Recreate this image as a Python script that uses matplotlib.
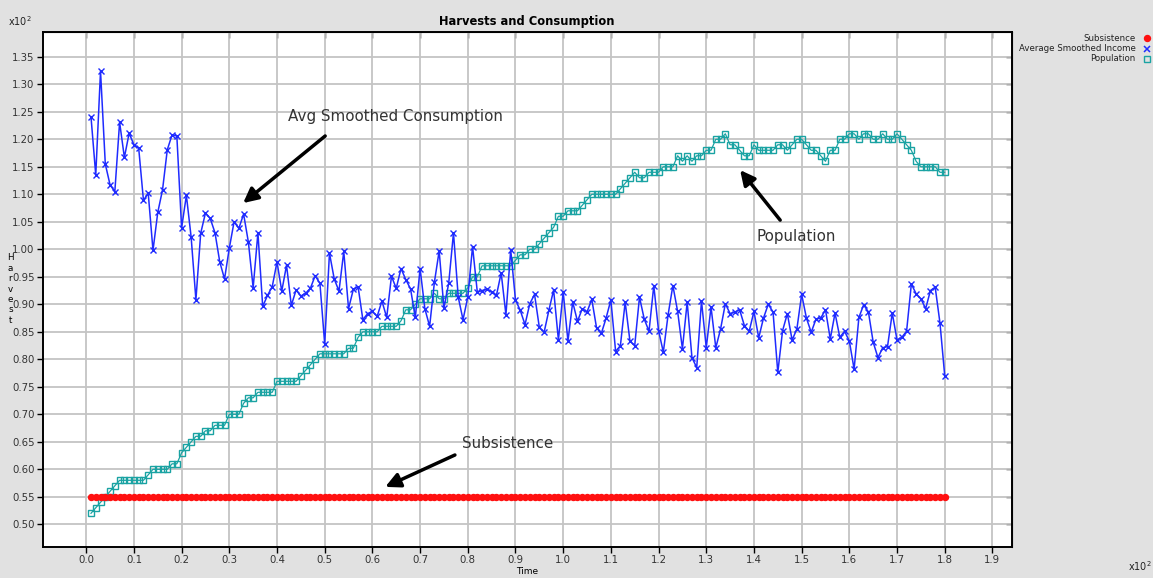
import numpy as np
import matplotlib
matplotlib.use('Agg')
import matplotlib.pyplot as plt
from matplotlib.lines import Line2D
from matplotlib.ticker import FuncFormatter

# time steps 1..180 (axis shown in units of x10^2)
time = np.arange(1, 181)

subsistence = [55] * 180

avg_income = [
    124.1, 113.5, 132.4, 115.5, 111.7, 110.5, 123.1, 116.7, 121.1, 119.0,
    118.4, 108.9, 110.2, 99.8, 106.7, 110.8, 118.1, 120.8, 120.6, 103.9,
    109.8, 102.2, 90.8, 102.9, 106.6, 105.6, 103.0, 97.7, 94.6, 100.2,
    105.0, 103.8, 106.4, 101.3, 93.0, 103.0, 89.6, 91.6, 93.2, 97.7,
    92.4, 97.1, 89.8, 92.6, 91.5, 92.0, 92.9, 95.2, 93.8, 82.8,
    99.3, 94.6, 92.4, 99.6, 89.2, 92.7, 93.2, 87.2, 88.3, 88.7,
    87.8, 90.6, 87.6, 95.1, 92.9, 96.5, 94.5, 92.8, 87.6, 96.5,
    89.2, 86.0, 94.0, 99.7, 89.3, 93.8, 103.0, 91.3, 87.2, 91.3,
    100.5, 92.2, 92.5, 92.7, 92.3, 91.6, 95.7, 88.1, 99.9, 90.8,
    88.9, 86.3, 90.1, 91.8, 85.8, 84.9, 88.9, 92.6, 83.5, 92.3,
    83.3, 90.4, 86.9, 89.2, 88.6, 90.9, 85.7, 84.7, 87.5, 90.8,
    81.4, 82.5, 90.4, 83.3, 82.5, 91.3, 87.3, 85.1, 93.4, 85.2,
    81.3, 88.1, 93.4, 88.7, 81.9, 90.4, 80.3, 78.5, 90.6, 82.1,
    89.5, 82.1, 85.5, 90.1, 88.3, 88.6, 89.0, 86.1, 85.1, 88.7,
    83.9, 87.5, 90.0, 88.6, 77.6, 85.2, 88.3, 83.5, 85.5, 91.8,
    87.5, 84.9, 87.3, 87.5, 89.0, 83.7, 88.4, 84.0, 85.1, 83.3,
    78.2, 87.6, 89.9, 88.6, 83.1, 80.3, 82.1, 82.3, 88.4, 83.5,
    84.0, 85.1, 93.7, 91.9, 91.0, 89.2, 92.5, 93.1, 86.6, 77.0,
]

population = [
    52, 53, 54, 55, 56, 57, 58, 58, 58, 58,
    58, 58, 59, 60, 60, 60, 60, 61, 61, 63,
    64, 65, 66, 66, 67, 67, 68, 68, 68, 70,
    70, 70, 72, 73, 73, 74, 74, 74, 74, 76,
    76, 76, 76, 76, 77, 78, 79, 80, 81, 81,
    81, 81, 81, 81, 82, 82, 84, 85, 85, 85,
    85, 86, 86, 86, 86, 87, 89, 89, 90, 91,
    91, 91, 92, 91, 91, 92, 92, 92, 92, 93,
    95, 95, 97, 97, 97, 97, 97, 97, 97, 98,
    99, 99, 100, 100, 101, 102, 103, 104, 106, 106,
    107, 107, 107, 108, 109, 110, 110, 110, 110, 110,
    110, 111, 112, 113, 114, 113, 113, 114, 114, 114,
    115, 115, 115, 117, 116, 117, 116, 117, 117, 118,
    118, 120, 120, 121, 119, 119, 118, 117, 117, 119,
    118, 118, 118, 118, 119, 119, 118, 119, 120, 120,
    119, 118, 118, 117, 116, 118, 118, 120, 120, 121,
    121, 120, 121, 121, 120, 120, 121, 120, 120, 121,
    120, 119, 118, 116, 115, 115, 115, 115, 114, 114,
]

legend_labels = ['Subsistence', 'Average Smoothed Income', 'Population']

BG = '#e1e1e1'
BLUE = '#1f2bff'
TEAL = '#1aa3a3'
RED = '#ff1010'


def main():
    fig = plt.figure(figsize=(11.53, 5.78), dpi=100, facecolor=BG)
    ax = fig.add_axes([0.0373, 0.0536, 0.8404, 0.891])
    ax.set_facecolor('white')

    ax.plot(time, subsistence, linestyle='none', marker='o', ms=4.3,
            color=RED, mec=RED, zorder=3)
    ax.plot(time, population, color=TEAL, lw=0.9, marker='s', ms=4.6,
            mfc='none', mec=TEAL, mew=1.0, zorder=2)
    ax.plot(time, avg_income, color=BLUE, lw=1.1, marker='x', ms=4.5,
            mew=1.0, zorder=4)

    ax.set_xlim(-9.06, 194.1)
    ax.set_ylim(45.87, 139.5)
    ax.set_xticks(np.arange(0, 191, 10))
    ax.set_yticks(np.arange(50, 136, 5))
    ax.xaxis.set_major_formatter(FuncFormatter(lambda v, p: '%.1f' % (v / 100)))
    ax.yaxis.set_major_formatter(FuncFormatter(lambda v, p: '%.2f' % (v / 100)))
    ax.tick_params(labelsize=7.3, labelcolor='#333333', length=4, width=1,
                   direction='out', pad=2)
    ax.grid(True, color='#c4c4c4', lw=1.3)
    ax.set_axisbelow(True)
    for s in ax.spines.values():
        s.set_linewidth(1.4)
        s.set_color('black')

    # inward ticks on the top and right side
    top = ax.secondary_xaxis('top')
    top.set_xticks(np.arange(0, 191, 10))
    top.tick_params(direction='in', length=4, width=1, labeltop=False)
    right = ax.secondary_yaxis('right')
    right.set_yticks(np.arange(50, 136, 5))
    right.tick_params(direction='in', length=4, width=1, labelright=False)

    fig.text(0.457, 0.963, 'Harvests and Consumption', ha='center',
             va='center', fontsize=8.3, fontweight='bold')
    fig.text(0.007, 0.963, 'x10$^2$', fontsize=7, va='center', color='#222222')
    fig.text(0.978, 0.008, 'x10$^2$', fontsize=7, va='bottom', color='#222222')
    fig.text(0.457, 0.011, 'Time', ha='center', va='center', fontsize=6.5)
    fig.text(0.009, 0.50, 'H\na\nr\nv\ne\ns\nt', ha='center', va='center',
             fontsize=6.3, linespacing=1.2)

    # legend on the right
    markers = [dict(marker='o', color=RED, mec=RED, ms=4.3),
               dict(marker='x', color=BLUE, ms=4.8, mew=1.1),
               dict(marker='s', color=TEAL, mfc='none', mec=TEAL, ms=4.6, mew=1)]
    ys = [0.934, 0.916, 0.898]
    for lab, y, mk in zip(legend_labels, ys, markers):
        fig.text(0.985, y, lab, ha='right', va='center', fontsize=6.2,
                 color='#222222')
        fig.add_artist(Line2D([0.9945], [y], transform=fig.transFigure,
                              linestyle='none', **mk))

    arrow = dict(arrowstyle='-|>', lw=2.5, color='black', mutation_scale=22,
                 shrinkA=0, shrinkB=0)
    ax.annotate('', xy=(32.9, 108.4), xytext=(50.1, 120.6), arrowprops=arrow)
    ax.text(42.3, 124.2, 'Avg Smoothed Consumption', fontsize=10.9,
            color='#333333', va='center', ha='left')
    ax.annotate('', xy=(137.1, 114.4), xytext=(145.5, 105.3), arrowprops=arrow)
    ax.text(140.6, 102.4, 'Population', fontsize=10.9, color='#333333',
            va='center', ha='left')
    ax.annotate('', xy=(62.7, 56.8), xytext=(77.3, 62.6), arrowprops=arrow)
    ax.text(78.8, 64.6, 'Subsistence', fontsize=10.9, color='#333333',
            va='center', ha='left')

    fig.savefig('out.png', dpi=100, facecolor=BG)


if __name__ == '__main__':
    main()
